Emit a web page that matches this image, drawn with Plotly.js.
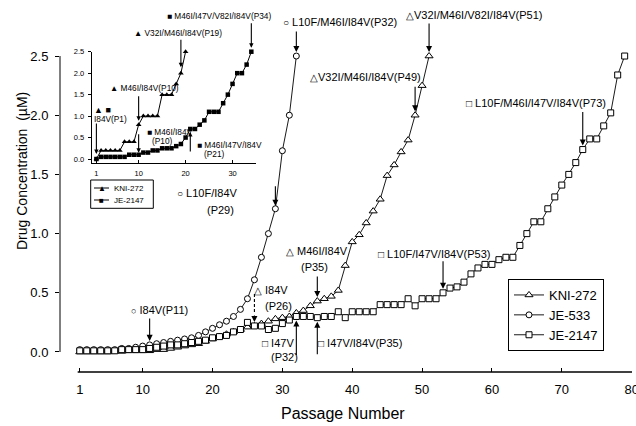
<!DOCTYPE html>
<html><head><meta charset="utf-8">
<script src="https://cdn.plot.ly/plotly-3.0.1.min.js"></script>
<style>html,body{margin:0;padding:0;background:#fff}#chart{width:636px;height:426px}</style>
</head><body><div id="chart"></div>
<script>
// ---------- DATA (main chart) ----------
const passKNI = [1,2,3,4,5,6,7,8,9,10,11,12,13,14,15,16,17,18,19,20,21,22,23,24,25,26,27,28,29,30,31,32,33,34,35,36,37,38,39,40,41,42,43,44,45,46,47,48,49,50,51];
const kni272 = [0.00,0.00,0.00,0.00,0.00,0.005,0.005,0.01,0.01,0.01,0.01,0.02,0.02,0.03,0.04,0.05,0.06,0.07,0.09,0.11,0.13,0.15,0.17,0.19,0.21,0.22,0.24,0.26,0.28,0.29,0.30,0.33,0.35,0.39,0.43,0.45,0.47,0.52,0.73,0.93,0.99,1.09,1.19,1.29,1.49,1.58,1.69,1.79,2.00,2.25,2.50];
const passJE533 = [1,2,3,4,5,6,7,8,9,10,11,12,13,14,15,16,17,18,19,20,21,22,23,24,25,26,27,28,29,30,31,32];
const je533 = [0.02,0.02,0.02,0.02,0.02,0.02,0.03,0.03,0.04,0.05,0.06,0.07,0.08,0.09,0.10,0.11,0.12,0.14,0.17,0.20,0.23,0.26,0.30,0.36,0.45,0.61,0.80,1.00,1.21,1.70,2.00,2.50];
const passJE2147 = [1,2,3,4,5,6,7,8,9,10,11,12,13,14,15,16,17,18,19,20,21,22,23,24,25,26,27,28,29,30,31,32,33,34,35,36,37,38,39,40,41,42,43,44,45,46,47,48,49,50,51,52,53,54,55,56,57,58,59,60,61,62,63,64,65,66,67,68,69,70,71,72,73,74,75,76,77,78,79];
const je2147 = [0.01,0.01,0.01,0.01,0.01,0.01,0.02,0.02,0.02,0.02,
  0.03,0.04,0.05,0.06,0.06,0.07,0.08,0.09,0.10,0.12,
  0.13,0.14,0.17,0.19,0.25,0.22,0.22,0.19,0.20,0.24,
  0.27,0.30,0.30,0.30,0.29,0.30,0.30,0.34,0.29,0.34,
  0.34,0.34,0.34,0.40,0.40,0.40,0.40,0.45,0.39,0.45,
  0.45,0.45,0.50,0.54,0.55,0.59,0.66,0.71,0.74,0.74,
  0.78,0.80,0.80,0.90,1.00,1.10,1.10,1.21,1.31,1.41,
  1.50,1.60,1.71,1.80,1.80,1.91,2.02,2.34,2.50];
const xTicks = [1,10,20,30,40,50,60,70,80];
const yTicks = [0,0.5,1,1.5,2,2.5];

// ---------- DATA (inset) ----------
const passInKNI = [1,2,3,4,5,6,7,8,9,10,11,12,13,14,15,16,17,18,19,20];
const inKNI = [0.0,0.2,0.2,0.2,0.2,0.2,0.4,0.4,0.4,0.8,1.0,1.0,1.0,1.0,1.5,1.5,1.5,1.75,2.0,2.5];
const passInJE = [1,2,3,4,5,6,7,8,9,10,11,12,13,14,15,16,17,18,19,20,21,22,23,24,25,26,27,28,29,30,31,32,33,34];
const inJE2147 = [0.0,0.05,0.05,0.05,0.05,0.05,0.05,0.1,0.1,0.1,0.15,0.15,0.2,0.2,0.25,0.25,0.25,0.3,0.35,0.5,0.7,0.7,0.8,0.9,1.1,1.1,1.1,1.3,1.5,1.75,2.0,2.0,2.2,2.5];
const inXTicks = [1,10,20,30];
const inYTicks = [0,0.5,1,1.5,2,2.5];
const inLegend = ['KNI-272', 'JE-2147'];

const FONT = 'Liberation Sans, Arial, Helvetica, sans-serif';
const L = 60, R = 4, T = 50, B = 54, W = 636, H = 426;
const PW = W - L - R, PH = H - T - B;
const px = p => (p - L) / PW;
const py = p => (H - B - p) / PH;

const traces = [
  {x: passKNI, y: kni272, name: 'KNI-272', mode: 'lines+markers', cliponaxis: false,
   line: {color: 'black', width: 0.9},
   marker: {symbol: 'triangle-up', size: 7, color: 'white', line: {color: 'black', width: 1}}},
  {x: passJE533, y: je533, name: 'JE-533', mode: 'lines+markers', cliponaxis: false,
   line: {color: 'black', width: 0.9},
   marker: {symbol: 'circle', size: 6, color: 'white', line: {color: 'black', width: 1}}},
  {x: passJE2147, y: je2147, name: 'JE-2147', mode: 'lines+markers', cliponaxis: false,
   line: {color: 'black', width: 0.9},
   marker: {symbol: 'square', size: 6, color: 'white', line: {color: 'black', width: 1}}},
  {x: passInKNI, y: inKNI, name: inLegend[0], xaxis: 'x2', yaxis: 'y2', showlegend: false,
   mode: 'lines+markers', cliponaxis: false, line: {color: 'black', width: 1},
   marker: {symbol: 'triangle-up', size: 5, color: 'black'}},
  {x: passInJE, y: inJE2147, name: inLegend[1], xaxis: 'x2', yaxis: 'y2', showlegend: false,
   mode: 'lines+markers', cliponaxis: false, line: {color: 'black', width: 1},
   marker: {symbol: 'square', size: 4.5, color: 'black'}}
];

function txt(t, left, cy, size, anchor) {
  return {xref: 'paper', yref: 'paper', x: px(left), y: py(cy), xanchor: anchor || 'left', yanchor: 'middle',
    showarrow: false, text: t, font: {family: FONT, size: size, color: 'black'}};
}
const sym = (s, n) => '<span style="font-size:' + n + 'px">' + s + '</span>';
function arrow(xr, yr, passArr, vals, p, ay, standoff, size) {
  return {xref: xr, yref: yr, x: p, y: vals[passArr.indexOf(p)], text: '', showarrow: true,
    ax: 0, ay: ay, arrowhead: 2, arrowsize: size, arrowwidth: 1.1, arrowcolor: 'black', standoff: standoff};
}

const MS = 11, IS = 8.3, SS = 10;
const annotations = [
  // axis titles
  {xref: 'paper', yref: 'paper', x: px(22), y: py(171), xanchor: 'center', yanchor: 'middle', textangle: -90, showarrow: false,
   text: 'Drug Concentration  (µM)', font: {family: FONT, size: 14, color: 'black'}},
  {xref: 'paper', yref: 'paper', x: px(343), y: py(413), xanchor: 'center', yanchor: 'middle', showarrow: false,
   text: 'Passage Number', font: {family: FONT, size: 16, color: 'black'}},
  // main labels
  txt(sym('○', SS) + ' L10F/M46I/I84V(P32)', 281, 22, MS),
  txt(sym('△', SS) + 'V32I/M46I/V82I/I84V(P51)', 404, 15, MS),
  txt(sym('△', SS) + 'V32I/M46I/I84V(P49)', 308, 77, MS),
  txt(sym('□', SS) + ' L10F/M46I/I47V/I84V(P73)', 464, 103, MS),
  txt(sym('○', SS) + ' L10F/I84V', 175, 193, MS),
  txt('(P29)', 205, 210, MS),
  txt(sym('△', SS) + ' M46I/I84V', 284, 251, MS),
  txt('(P35)', 299, 267, MS),
  txt(sym('□', SS) + ' L10F/I47V/I84V(P53)', 376, 254, MS),
  txt(sym('△', SS) + ' I84V', 252, 290, MS),
  txt('(P26)', 263, 306, MS),
  txt(sym('○', 9) + ' I84V(P11)', 129, 310, MS),
  txt(sym('□', SS) + ' I47V', 260, 343, MS),
  txt('(P32)', 269, 357, MS),
  txt(sym('□', SS) + ' I47V/I84V(P35)', 316, 343, MS),
  // main arrows
  arrow('x', 'y', passJE533, je533, 32, -26, 4, 1.1),
  arrow('x', 'y', passKNI, kni272, 51, -34, 4, 1.1),
  arrow('x', 'y', passKNI, kni272, 49, -30, 4, 1.1),
  arrow('x', 'y', passJE2147, je2147, 73, -39, 4, 1.1),
  arrow('x', 'y', passJE533, je533, 29, -24, 3, 1.1),
  arrow('x', 'y', passKNI, kni272, 35, -26, 4, 1.1),
  arrow('x', 'y', passJE2147, je2147, 53, -33, 4, 1.1),
  arrow('x', 'y', passKNI, kni272, 26, -12, 4, 1.1),
  arrow('x', 'y', passJE533, je533, 11, -28, 4, 1.1),
  arrow('x', 'y', passJE2147, je2147, 32, 40, 4, 1.1),
  arrow('x', 'y', passJE2147, je2147, 35, 38, 4, 1.1),
  // inset labels
  txt('▲ V32I/M46I/I84V(P19)', 132, 33, IS),
  txt('■ M46I/I47V/V82I/I84V(P34)', 165, 16, IS),
  txt('▲ M46I/I84V(P10)', 108, 88, IS),
  txt('▲ ■', 92, 110, 9),
  txt('I84V(P1)', 92, 119, IS),
  txt('■ M46I/I84V', 145, 132, IS),
  txt('(P10)', 150, 141, IS),
  txt('■ M46I/I47V/I84V', 195, 145, IS),
  txt('(P21)', 202, 154, IS),
  // inset legend
  txt('▲', 101.5, 188, 8, 'center'),
  txt('■', 101.5, 200, 8, 'center'),
  txt(inLegend[0], 112, 188, 8),
  txt(inLegend[1], 112, 200, 8),
  // inset arrows
  arrow('x2', 'y2', passInKNI, inKNI, 19, -35, 6, 0.8),
  arrow('x2', 'y2', passInJE, inJE2147, 34, -30, 4, 0.8),
  arrow('x2', 'y2', passInKNI, inKNI, 10, -30, 4, 0.8),
  arrow('x2', 'y2', passInKNI, inKNI, 1, -37, 5, 0.8),
  arrow('x2', 'y2', passInJE, inJE2147, 10, -22, 2, 0.8),
  arrow('x2', 'y2', passInJE, inJE2147, 21, 24, 3, 0.8)
];

const layout = {
  width: W, height: H,
  margin: {l: L, r: R, t: T, b: B, pad: 0},
  paper_bgcolor: 'white', plot_bgcolor: 'rgba(0,0,0,0)',
  font: {family: FONT, color: 'black'},
  showlegend: true,
  xaxis: {range: [-1.832, 80.05], tickvals: xTicks, ticks: 'inside', ticklen: 4, tickwidth: 1,
    tickcolor: 'black', showline: false, showgrid: false, zeroline: false,
    tickfont: {size: 13, family: FONT}, ticklabelstandoff: 8, ticklabeloverflow: 'allow'},
  yaxis: {range: [-0.169, 2.551], tickvals: yTicks, tickformat: '.1f', ticks: 'outside', ticklen: 4,
    tickcolor: 'black', showline: false, showgrid: false, zeroline: false,
    tickfont: {size: 13, family: FONT}, ticklabelstandoff: 4},
  xaxis2: {domain: [0.0554, 0.3427], anchor: 'y2', range: [0, 35], tickvals: inXTicks,
    ticks: 'inside', ticklen: 3, tickcolor: 'black', showline: true, linecolor: 'black', linewidth: 1,
    showgrid: false, zeroline: false, tickfont: {size: 7.5, family: FONT}, ticklabelstandoff: 3},
  yaxis2: {domain: [0.6481, 0.9947], anchor: 'x2', range: [-0.1, 2.5], tickvals: inYTicks, tickformat: '.1f',
    ticks: 'outside', ticklen: 3, tickcolor: 'black', showline: true, linecolor: 'black', linewidth: 1,
    showgrid: false, zeroline: false, tickfont: {size: 7.5, family: FONT}, ticklabelstandoff: 2},
  shapes: [
    {type: 'line', xref: 'paper', yref: 'y', x0: 0, x1: 0, y0: 0, y1: 2.5, line: {color: 'black', width: 1}},
    {type: 'line', xref: 'x', yref: 'paper', x0: 0.7, x1: 80.05, y0: 0, y1: 0, line: {color: 'black', width: 1.3}},
    // dashed shaft of the P26 arrow
    {type: 'line', xref: 'x', yref: 'y', ysizemode: 'pixel', x0: 26, x1: 26,
     yanchor: kni272[passKNI.indexOf(26)], y0: 14, y1: 34, line: {color: 'black', width: 1.1, dash: '3px,2px'}},
    // inset legend box and symbol lines
    {type: 'rect', xref: 'paper', yref: 'paper', x0: px(90.7), x1: px(153.3), y0: py(180), y1: py(208.3),
     line: {color: 'black', width: 1}, fillcolor: 'white', layer: 'below'},
    {type: 'line', xref: 'paper', yref: 'paper', x0: px(94), x1: px(109), y0: py(188), y1: py(188), line: {color: 'black', width: 1}},
    {type: 'line', xref: 'paper', yref: 'paper', x0: px(94), x1: px(109), y0: py(200), y1: py(200), line: {color: 'black', width: 1}}
  ],
  legend: {x: px(508), y: py(279), xanchor: 'left', yanchor: 'top', bgcolor: 'white',
    bordercolor: 'black', borderwidth: 1, font: {size: 13, family: FONT}, tracegroupgap: 0},
  annotations: annotations
};

Plotly.newPlot('chart', traces, layout, {staticPlot: true, displayModeBar: false});
</script></body></html>
